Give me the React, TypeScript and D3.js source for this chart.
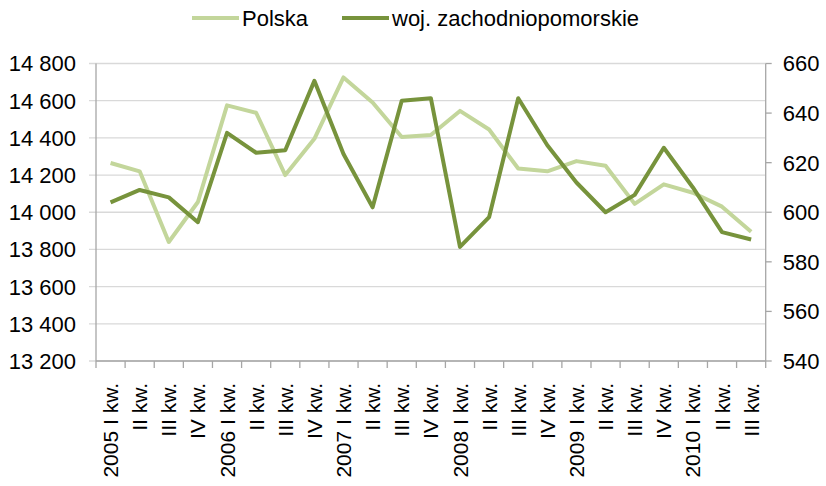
import React, {useEffect, useRef} from 'react';
import * as d3 from "d3";

const quarters = [
    "2005 I kw.", "II kw.", "III kw.", "IV kw.",
    "2006 I kw.", "II kw.", "III kw.", "IV kw.",
    "2007 I kw.", "II kw.", "III kw.", "IV kw.",
    "2008 I kw.", "II kw.", "III kw.", "IV kw.",
    "2009 I kw.", "II kw.", "III kw.", "IV kw.",
    "2010 I kw.", "II kw.", "III kw."
]
// left axis
const polska = [14265, 14220, 13840, 14055, 14575, 14535, 14200, 14395, 14725, 14590, 14405, 14415,
    14545, 14445, 14235, 14220, 14275, 14250, 14045, 14150, 14105, 14030, 13895]
// right axis
const zachodniopomorskie = [604, 609, 606, 596, 632, 624, 625, 653, 623.5, 602, 645, 646,
    586, 598, 646, 627, 612, 600, 607, 626, 610, 592, 589]
const leftTicks = [13200, 13400, 13600, 13800, 14000, 14200, 14400, 14600, 14800]
const rightTicks = [540, 560, 580, 600, 620, 640, 660]
const seriesNames = ["Polska", "woj. zachodniopomorskie"]

const colors = ["#c3d69b", "#77933c"]
const width = 826
const height = 486
const margin = {left: 96, right: 60, top: 63.5, bottom: 125}
const font = "'Liberation Sans', Arial, sans-serif"

const fmt = (v: number) => {
    const s = String(v)
    return s.length > 3 ? s.slice(0, s.length - 3) + " " + s.slice(-3) : s
}

const App = () => {
    const svgRef = useRef<SVGSVGElement>(null)

    useEffect(() => {
        const svg = d3.select(svgRef.current)
        svg.selectAll("*").remove()

        const x0 = margin.left, x1 = width - margin.right - 0.3
        const y0 = height - margin.bottom, y1 = margin.top

        const xScale = d3.scaleBand<number>()
            .domain(d3.range(quarters.length))
            .range([x0, x1])
            .padding(0)
        const yLeft = d3.scaleLinear().domain([13200, 14800]).range([y0, y1])
        const yRight = d3.scaleLinear().domain([540, 660]).range([y0, y1])
        const cx = (i: number) => xScale(i)! + xScale.bandwidth() / 2

        // gridlines
        svg.append("g")
            .selectAll("line")
            .data(leftTicks)
            .join("line")
            .attr("x1", x0 - 7)
            .attr("x2", x1)
            .attr("y1", d => yLeft(d))
            .attr("y2", d => yLeft(d))
            .attr("stroke", "#d9d9d9")
            .attr("stroke-width", 1.3)

        // left axis
        const left = svg.append("g")
        left.append("line")
            .attr("x1", x0).attr("x2", x0)
            .attr("y1", y1).attr("y2", y0)
            .attr("stroke", "#a6a6a6").attr("stroke-width", 1.3)
        left.selectAll("text")
            .data(leftTicks)
            .join("text")
            .attr("x", x0 - 20)
            .attr("y", d => yLeft(d))
            .attr("dy", "0.36em")
            .attr("text-anchor", "end")
            .attr("font-family", font)
            .attr("font-size", 22)
            .attr("fill", "#000")
            .text(d => fmt(d))

        // right axis
        const right = svg.append("g")
        right.append("line")
            .attr("x1", x1).attr("x2", x1)
            .attr("y1", y1).attr("y2", y0)
            .attr("stroke", "#a6a6a6").attr("stroke-width", 1.3)
        right.selectAll("line.tick")
            .data(rightTicks)
            .join("line")
            .attr("class", "tick")
            .attr("x1", x1).attr("x2", x1 + 6)
            .attr("y1", d => yRight(d)).attr("y2", d => yRight(d))
            .attr("stroke", "#a6a6a6").attr("stroke-width", 1.3)
        right.selectAll("text")
            .data(rightTicks)
            .join("text")
            .attr("x", x1 + 17)
            .attr("y", d => yRight(d))
            .attr("dy", "0.36em")
            .attr("font-family", font)
            .attr("font-size", 22)
            .attr("fill", "#000")
            .text(d => d)

        // bottom axis
        const bottom = svg.append("g")
        bottom.append("line")
            .attr("x1", x0).attr("x2", x1)
            .attr("y1", y0).attr("y2", y0)
            .attr("stroke", "#a6a6a6").attr("stroke-width", 1.3)
        bottom.selectAll("line.tick")
            .data(d3.range(quarters.length + 1))
            .join("line")
            .attr("class", "tick")
            .attr("x1", i => i < quarters.length ? xScale(i)! : x1)
            .attr("x2", i => i < quarters.length ? xScale(i)! : x1)
            .attr("y1", y0).attr("y2", y0 + 7)
            .attr("stroke", "#a6a6a6").attr("stroke-width", 1.3)
        bottom.selectAll("text")
            .data(quarters)
            .join("text")
            .attr("transform", (d, i) => `translate(${cx(i)}, ${y0 + 22}) rotate(-90)`)
            .attr("dy", "0.36em")
            .attr("text-anchor", "end")
            .attr("font-family", font)
            .attr("font-size", 21)
            .attr("fill", "#000")
            .text(d => d)

        // lines
        const line = (scale: d3.ScaleLinear<number, number>) => d3.line<number>()
            .x((d, i) => cx(i))
            .y(d => scale(d))
        svg.append("path")
            .datum(polska)
            .attr("d", line(yLeft))
            .attr("fill", "none")
            .attr("stroke", colors[0])
            .attr("stroke-width", 4)
            .attr("stroke-linejoin", "round")
        svg.append("path")
            .datum(zachodniopomorskie)
            .attr("d", line(yRight))
            .attr("fill", "none")
            .attr("stroke", colors[1])
            .attr("stroke-width", 4)
            .attr("stroke-linejoin", "round")

        // legend
        const legendX = [192, 342]
        const legend = svg.append("g")
            .selectAll("g")
            .data(seriesNames)
            .join("g")
            .attr("transform", (d, i) => `translate(${legendX[i]}, 18)`)
        legend.append("line")
            .attr("x1", 0).attr("x2", 47)
            .attr("stroke", (d, i) => colors[i])
            .attr("stroke-width", 4)
        legend.append("text")
            .attr("x", 50)
            .attr("dy", "0.36em")
            .attr("font-family", font)
            .attr("font-size", 22)
            .attr("fill", "#000")
            .text(d => d)
    }, [])

    return (
        <div style={{position: "fixed", left: 0, top: 0, background: "#fff"}}>
            <svg ref={svgRef} width={width} height={height}></svg>
        </div>
    );
};

export default App;
